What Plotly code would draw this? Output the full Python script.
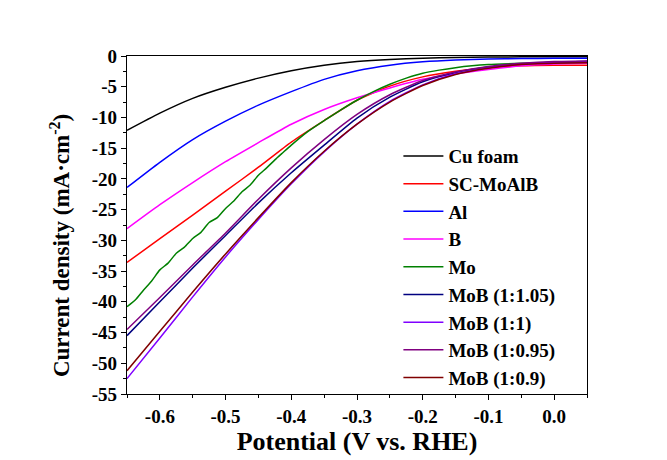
import plotly.graph_objects as go

# Potential grid (V vs. RHE) shared by the smooth polarization curves
potential = [-0.65, -0.60, -0.55, -0.50, -0.45, -0.40, -0.35, -0.30,
             -0.25, -0.20, -0.15, -0.10, -0.05, 0.00, 0.05]

# Current density (mA/cm^2) for each electrode
cu_foam = [-12.1, -9.3, -6.9, -5.1, -3.6, -2.4, -1.5, -0.9,
           -0.55, -0.35, -0.25, -0.18, -0.14, -0.12, -0.12]
sc_moalb = [-33.6, -29.7, -25.9, -22.0, -18.1, -14.0, -10.5, -7.2,
            -4.9, -3.4, -2.5, -1.9, -1.6, -1.5, -1.5]
al = [-21.4, -17.3, -13.6, -10.6, -8.0, -5.8, -3.8, -2.4,
      -1.5, -0.95, -0.65, -0.5, -0.42, -0.38, -0.36]
b = [-28.1, -24.2, -20.6, -17.2, -14.1, -11.1, -8.7, -6.8,
     -5.2, -3.8, -2.9, -2.2, -1.6, -1.3, -1.2]
mob_1_105 = [-45.5, -40.0, -34.5, -29.2, -23.9, -19.0, -14.5, -10.1,
             -6.7, -4.2, -2.7, -1.8, -1.3, -1.0, -0.9]
mob_1_1 = [-52.5, -45.9, -39.2, -32.7, -26.6, -20.8, -15.6, -11.1,
           -7.4, -4.7, -2.9, -1.9, -1.3, -1.0, -0.9]
mob_1_095 = [-44.5, -39.3, -34.0, -28.8, -23.3, -18.2, -13.6, -9.5,
             -6.3, -4.0, -2.6, -1.7, -1.2, -0.9, -0.8]
mob_1_09 = [-51.2, -44.8, -38.4, -32.2, -26.3, -20.6, -15.5, -11.1,
            -7.5, -4.8, -3.0, -2.0, -1.4, -1.2, -1.1]

# The Mo electrode is recorded on a finer grid (noisy at high overpotential)
potential_mo = [-0.65, -0.6375, -0.625, -0.6125, -0.60, -0.5875, -0.575,
                -0.5625, -0.55, -0.5375, -0.525, -0.5125, -0.50, -0.4875,
                -0.475, -0.4625, -0.45, -0.4375, -0.425, -0.4125, -0.40,
                -0.375, -0.35, -0.325, -0.30, -0.275, -0.25, -0.225,
                -0.20, -0.175, -0.15, -0.125, -0.10, -0.05, 0.00, 0.05]
mo = [-40.8, -39.7, -38.1, -36.6, -34.8, -33.7, -32.1,
      -31.1, -29.7, -28.7, -27.1, -26.3, -24.8, -23.6,
      -22.1, -21.0, -19.4, -18.2, -16.9, -15.7, -14.5,
      -12.3, -10.5, -8.8, -7.2, -5.8, -4.6, -3.6,
      -2.8, -2.3, -1.9, -1.6, -1.4, -1.2, -1.05, -1.0]

series = [
    ("Cu foam", potential, cu_foam, "#000000"),
    ("SC-MoAlB", potential, sc_moalb, "#FF0000"),
    ("Al", potential, al, "#0000FF"),
    ("B", potential, b, "#FF00FF"),
    ("Mo", potential_mo, mo, "#008000"),
    ("MoB (1:1.05)", potential, mob_1_105, "#000080"),
    ("MoB (1:1)", potential, mob_1_1, "#8000FF"),
    ("MoB (1:0.95)", potential, mob_1_095, "#800080"),
    ("MoB (1:0.9)", potential, mob_1_09, "#800000"),
]

x_ticks = [-0.6, -0.5, -0.4, -0.3, -0.2, -0.1, 0.0]
x_tick_text = ["-0.6", "-0.5", "-0.4", "-0.3", "-0.2", "-0.1", "0.0"]
y_ticks = [0, -5, -10, -15, -20, -25, -30, -35, -40, -45, -50, -55]
y_tick_text = ["0", "-5", "-10", "-15", "-20", "-25", "-30", "-35",
               "-40", "-45", "-50", "-55"]

SERIF = "Liberation Serif"

fig = go.Figure()
for i, (name, xs, ys, color) in enumerate(series):
    fig.add_trace(go.Scatter(
        x=xs, y=ys, name=name, mode="lines",
        line=dict(color=color, width=1.5, shape="spline", smoothing=0.6),
        legendgroup=f"g{i}",
    ))

axis_common = dict(
    showline=True, linecolor="black", linewidth=1.2, mirror=True,
    ticks="outside", ticklen=5, tickwidth=1.2, tickcolor="black",
    showgrid=False, zeroline=False,
    tickfont=dict(family=SERIF, size=19, color="black", weight="bold"),
)

fig.update_xaxes(
    range=[-0.65, 0.05], tickvals=x_ticks, ticktext=x_tick_text,
    minor=dict(ticks="outside", dtick=0.05, tick0=0, ticklen=3,
               tickwidth=1.2, tickcolor="black"),
    title=dict(text="Potential (V vs. RHE)", standoff=4,
               font=dict(family=SERIF, size=26, color="black", weight="bold")),
    **axis_common,
)
fig.update_yaxes(
    range=[-55, 0], tickvals=y_ticks, ticktext=y_tick_text,
    minor=dict(ticks="outside", dtick=2.5, tick0=0, ticklen=3,
               tickwidth=1.2, tickcolor="black"),
    **axis_common,
)

# Vertical axis caption, placed beside the tick labels
fig.add_annotation(
    text="Current density (mA·cm<sup>-2</sup>)",
    xref="paper", yref="paper", x=-0.146, y=0.44,
    xanchor="center", yanchor="middle", textangle=-90, showarrow=False,
    font=dict(family=SERIF, size=23, color="black", weight="bold"),
)

fig.update_layout(
    width=667, height=460,
    margin=dict(l=127, r=80, t=56, b=66),
    paper_bgcolor="white", plot_bgcolor="white",
    legend=dict(
        x=0.59, y=0.76, xanchor="left", yanchor="top",
        bgcolor="rgba(0,0,0,0)", borderwidth=0,
        font=dict(family=SERIF, size=19, color="black", weight="bold"),
        traceorder="grouped", tracegroupgap=0, itemwidth=40,
    ),
)

fig.write_html("out.html")
